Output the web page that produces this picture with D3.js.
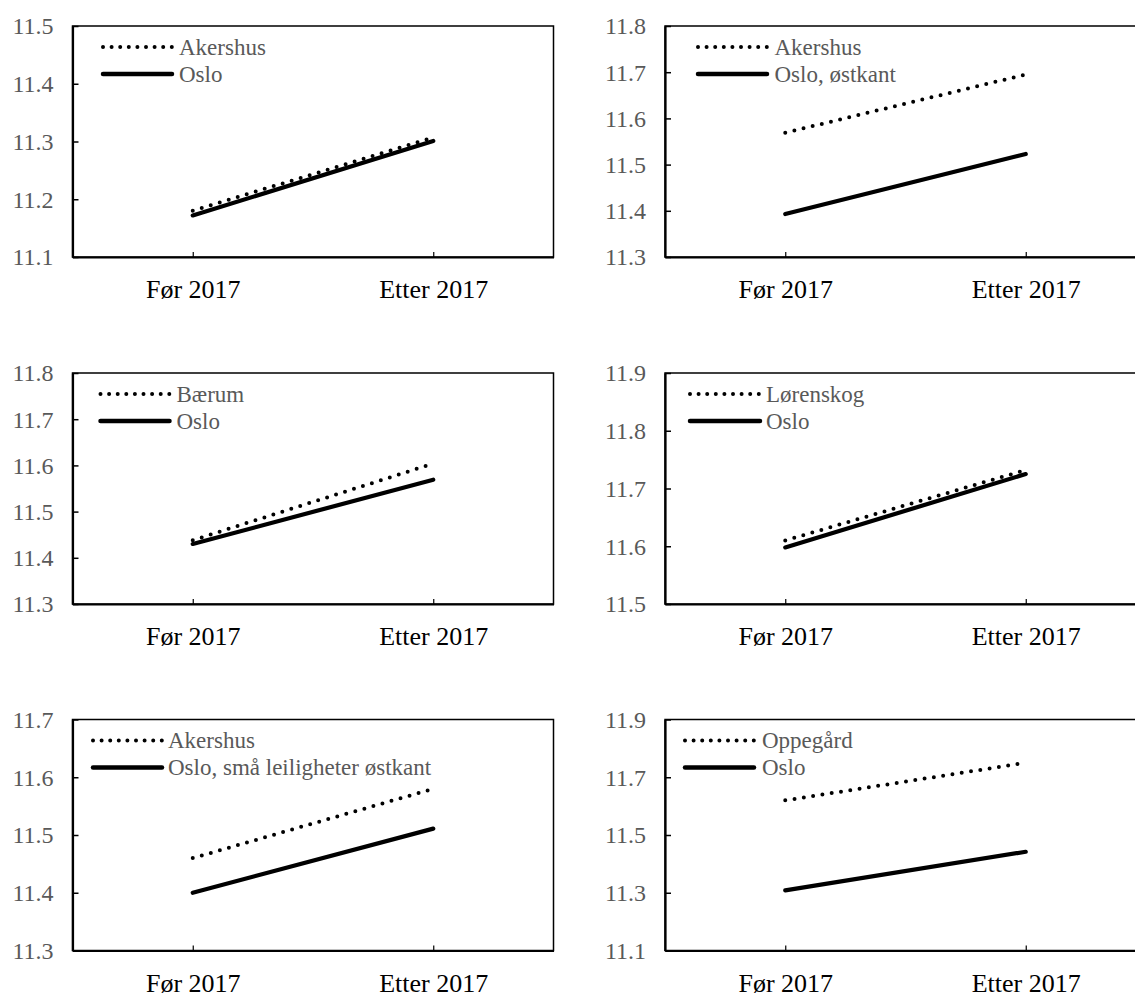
<!DOCTYPE html>
<html><head><meta charset="utf-8">
<script src="https://cdn.jsdelivr.net/npm/d3@7"></script>
<style>html,body{margin:0;padding:0;background:#fff;overflow:hidden}</style>
</head><body>
<svg id="c" width="1135" height="994"></svg>
<script>
// ---- data ----
const categories = ["Før 2017", "Etter 2017"];

const p1Names = ["Akershus", "Oslo"];
const p1Dotted = [11.18, 11.307];
const p1Solid = [11.172, 11.301];
const p1Ticks = [11.1, 11.2, 11.3, 11.4, 11.5];

const p2Names = ["Akershus", "Oslo, østkant"];
const p2Dotted = [11.569, 11.695];
const p2Solid = [11.393, 11.523];
const p2Ticks = [11.3, 11.4, 11.5, 11.6, 11.7, 11.8];

const p3Names = ["Bærum", "Oslo"];
const p3Dotted = [11.438, 11.604];
const p3Solid = [11.43, 11.569];
const p3Ticks = [11.3, 11.4, 11.5, 11.6, 11.7, 11.8];

const p4Names = ["Lørenskog", "Oslo"];
const p4Dotted = [11.61, 11.732];
const p4Solid = [11.598, 11.725];
const p4Ticks = [11.5, 11.6, 11.7, 11.8, 11.9];

const p5Names = ["Akershus", "Oslo, små leiligheter østkant"];
const p5Dotted = [11.46, 11.58];
const p5Solid = [11.40, 11.511];
const p5Ticks = [11.3, 11.4, 11.5, 11.6, 11.7];

const p6Names = ["Oppegård", "Oslo"];
const p6Dotted = [11.62, 11.75];
const p6Solid = [11.308, 11.442];
const p6Ticks = [11.1, 11.3, 11.5, 11.7, 11.9];

const panels = [
  {names: p1Names, dotted: p1Dotted, solid: p1Solid, ticks: p1Ticks},
  {names: p2Names, dotted: p2Dotted, solid: p2Solid, ticks: p2Ticks},
  {names: p3Names, dotted: p3Dotted, solid: p3Solid, ticks: p3Ticks},
  {names: p4Names, dotted: p4Dotted, solid: p4Solid, ticks: p4Ticks},
  {names: p5Names, dotted: p5Dotted, solid: p5Solid, ticks: p5Ticks},
  {names: p6Names, dotted: p6Dotted, solid: p6Solid, ticks: p6Ticks}
];

// ---- layout ----
const colX = [72.5, 665];
const rowY = [26, 373, 719.5];
const W = 481, H = 231;
const legendOffsets = [ // line start, line end, text x, rel. to axis
  [30.5, 99.5, 106.5], [33, 102, 109.5], [28, 97, 104],
  [25, 95, 101], [20.5, 89.5, 95.5], [20, 89, 97]
];
const legendRows = [21, 48];
const FONT = "'Liberation Serif','Times New Roman',Times,serif";
const GRAY = "#595959";

const svg = d3.select("#c");

panels.forEach((p, i) => {
  const x0 = colX[i % 2], y0 = rowY[Math.floor(i / 2)];
  const g = svg.append("g").attr("transform", `translate(${x0},${y0})`);
  const x = d3.scalePoint().domain(categories).range([0, W]).padding(0.5);
  const y = d3.scaleLinear().domain(d3.extent(p.ticks)).range([H, 0]);

  // frame
  g.append("rect").attr("x", 0).attr("y", 0).attr("width", W).attr("height", H)
    .attr("fill", "none").attr("stroke", "#000").attr("stroke-width", 1.5);

  // y axis
  const ya = g.append("g").call(d3.axisLeft(y).tickValues(p.ticks).tickSizeInner(-6).tickSizeOuter(0)
    .tickPadding(19).tickFormat(d3.format(".1f")));
  ya.select(".domain").attr("stroke", "#000").attr("stroke-width", 2.2);
  ya.selectAll(".tick line").attr("stroke", "#000").attr("stroke-width", 1.5);
  ya.selectAll(".tick text").attr("fill", GRAY).style("font-family", FONT).style("font-size", "24px")
    .attr("dy", "0.33em");

  // x axis
  const xa = g.append("g").attr("transform", `translate(0,${H})`)
    .call(d3.axisBottom(x).tickSizeInner(-5).tickSizeOuter(0).tickPadding(0));
  xa.select(".domain").attr("stroke", "#000").attr("stroke-width", 2.2);
  xa.selectAll(".tick line").attr("stroke", "#000").attr("stroke-width", 1.2);
  xa.selectAll(".tick text").attr("fill", "#000").style("font-family", FONT).style("font-size", "26px")
    .attr("y", 41).attr("dy", 0);

  const line = d3.line().x((d, j) => x(categories[j])).y(d => y(d));

  g.append("path").datum(p.solid).attr("d", line).attr("fill", "none")
    .attr("stroke", "#000").attr("stroke-width", 4.2).attr("stroke-linecap", "round");
  g.append("path").datum(p.dotted).attr("d", line).attr("fill", "none")
    .attr("stroke", "#000").attr("stroke-width", 4).attr("stroke-linecap", "round")
    .attr("stroke-dasharray", "0 9.4");

  // legend
  const lo = legendOffsets[i];
  const styles = [
    {w: 4, dash: "0 8.6"},
    {w: 4.5, dash: null}
  ];
  p.names.forEach((n, k) => {
    const ly = legendRows[k];
    const l = g.append("line").attr("x1", lo[0]).attr("x2", lo[1]).attr("y1", ly).attr("y2", ly)
      .attr("stroke", "#000").attr("stroke-width", styles[k].w).attr("stroke-linecap", "round");
    if (styles[k].dash) l.attr("stroke-dasharray", styles[k].dash);
    g.append("text").attr("x", lo[2]).attr("y", ly).attr("dy", "0.33em")
      .attr("fill", GRAY).style("font-family", FONT).style("font-size", "23px").text(n);
  });
});
</script>
</body></html>
